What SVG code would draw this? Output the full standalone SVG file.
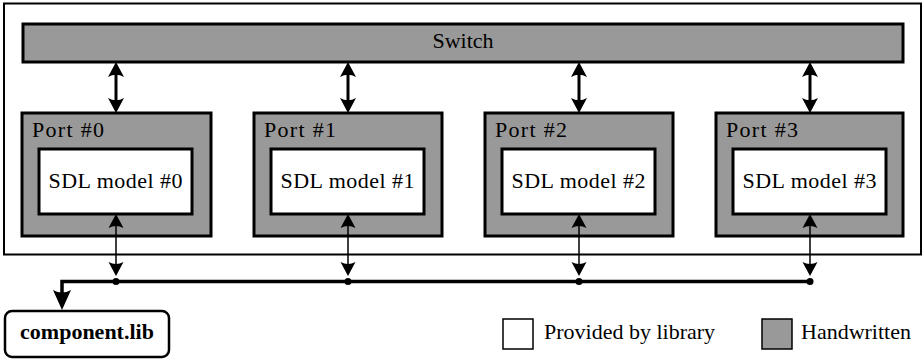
<svg xmlns="http://www.w3.org/2000/svg" width="924" height="359" viewBox="0 0 924 359">
<style>
.hw{fill:#999999;stroke:#000;stroke-width:3}
.lib{fill:#fff;stroke:#000;stroke-width:3}
text{font-family:"Liberation Serif","DejaVu Serif","Times New Roman",serif;font-size:22px;fill:#000}
.c{text-anchor:middle}
.thick{stroke:#000;stroke-width:3;fill:none}
.thin{stroke:#000;stroke-width:1.5;fill:none}
.bus{stroke:#000;stroke-width:3.5;fill:none}
</style>
<defs>
<marker id="ah" markerUnits="userSpaceOnUse" markerWidth="20" markerHeight="20" viewBox="0 -10 20 20" refX="11" refY="0" orient="auto-start-reverse" overflow="visible">
<path d="M15,0 L0,-8 Q4.5,0 0,8 Z" fill="#000"/>
</marker>
<marker id="ahs" markerUnits="userSpaceOnUse" markerWidth="20" markerHeight="20" viewBox="0 -10 20 20" refX="11" refY="0" orient="auto-start-reverse" overflow="visible">
<path d="M14,0 L0,-7.5 Q4,0 0,7.5 Z" fill="#000"/>
</marker>
<marker id="ahb" markerUnits="userSpaceOnUse" markerWidth="24" markerHeight="24" viewBox="0 -12 24 24" refX="16" refY="0" orient="auto" overflow="visible">
<path d="M20,0 L0,-9 Q5,0 0,9 Z" fill="#000"/>
</marker>
</defs>

<g id="system">
<rect x="4" y="3.5" width="917" height="251" fill="#fff" stroke="#000" stroke-width="2"/>
</g>

<g id="switch">
<rect class="hw" x="23" y="24" width="880" height="38"/>
<text class="c" x="463" y="48">Switch</text>
</g>

<g id="port0">
<rect class="hw" x="22" y="113" width="189" height="123"/>
<text x="32" y="137" textLength="72">Port #0</text>
</g>
<g id="sdl0">
<rect class="lib" x="39" y="149" width="153" height="65"/>
<text class="c" x="115.5" y="188" textLength="134">SDL model #0</text>
</g>

<g id="port1">
<rect class="hw" x="254" y="113" width="188" height="123"/>
<text x="264" y="137" textLength="72">Port #1</text>
</g>
<g id="sdl1">
<rect class="lib" x="271" y="149" width="153" height="65"/>
<text class="c" x="347.5" y="188" textLength="134">SDL model #1</text>
</g>

<g id="port2">
<rect class="hw" x="485" y="113" width="188" height="123"/>
<text x="495" y="137" textLength="72">Port #2</text>
</g>
<g id="sdl2">
<rect class="lib" x="502" y="149" width="153" height="65"/>
<text class="c" x="578.5" y="188" textLength="134">SDL model #2</text>
</g>

<g id="port3">
<rect class="hw" x="716" y="113" width="187" height="123"/>
<text x="726" y="137" textLength="72">Port #3</text>
</g>
<g id="sdl3">
<rect class="lib" x="733" y="149" width="153" height="65"/>
<text class="c" x="809.5" y="188" textLength="134">SDL model #3</text>
</g>

<g id="componentlib">
<rect x="5" y="311" width="164" height="46" rx="7" fill="#fff" stroke="#000" stroke-width="2.5"/>
<text class="c" x="87" y="339" font-weight="bold" font-size="21">component.lib</text>
</g>

<g id="legend">
<rect x="503" y="319" width="30" height="30" fill="#fff" stroke="#000" stroke-width="1.5"/>
<text x="544" y="339">Provided by library</text>
<rect x="762" y="319" width="30" height="30" fill="#999999" stroke="#000" stroke-width="1.5"/>
<text x="801" y="339">Handwritten</text>
</g>

<g id="connectors">
<line class="thick" x1="116" y1="66" x2="116" y2="109" marker-start="url(#ah)" marker-end="url(#ah)"/>
<line class="thick" x1="348" y1="66" x2="348" y2="109" marker-start="url(#ah)" marker-end="url(#ah)"/>
<line class="thick" x1="579" y1="66" x2="579" y2="109" marker-start="url(#ah)" marker-end="url(#ah)"/>
<line class="thick" x1="810" y1="66" x2="810" y2="109" marker-start="url(#ah)" marker-end="url(#ah)"/>

<line class="thin" x1="116" y1="217" x2="116" y2="273" marker-start="url(#ahs)" marker-end="url(#ahs)"/>
<line class="thin" x1="348" y1="217" x2="348" y2="273" marker-start="url(#ahs)" marker-end="url(#ahs)"/>
<line class="thin" x1="579" y1="217" x2="579" y2="273" marker-start="url(#ahs)" marker-end="url(#ahs)"/>
<line class="thin" x1="810" y1="217" x2="810" y2="273" marker-start="url(#ahs)" marker-end="url(#ahs)"/>

<path class="bus" d="M810,281.5 H62 V306" marker-end="url(#ahb)"/>
<circle cx="116" cy="281.5" r="3.5"/>
<circle cx="348" cy="281.5" r="3.5"/>
<circle cx="579" cy="281.5" r="3.5"/>
<circle cx="810" cy="281.5" r="3.5"/>
</g>
</svg>
